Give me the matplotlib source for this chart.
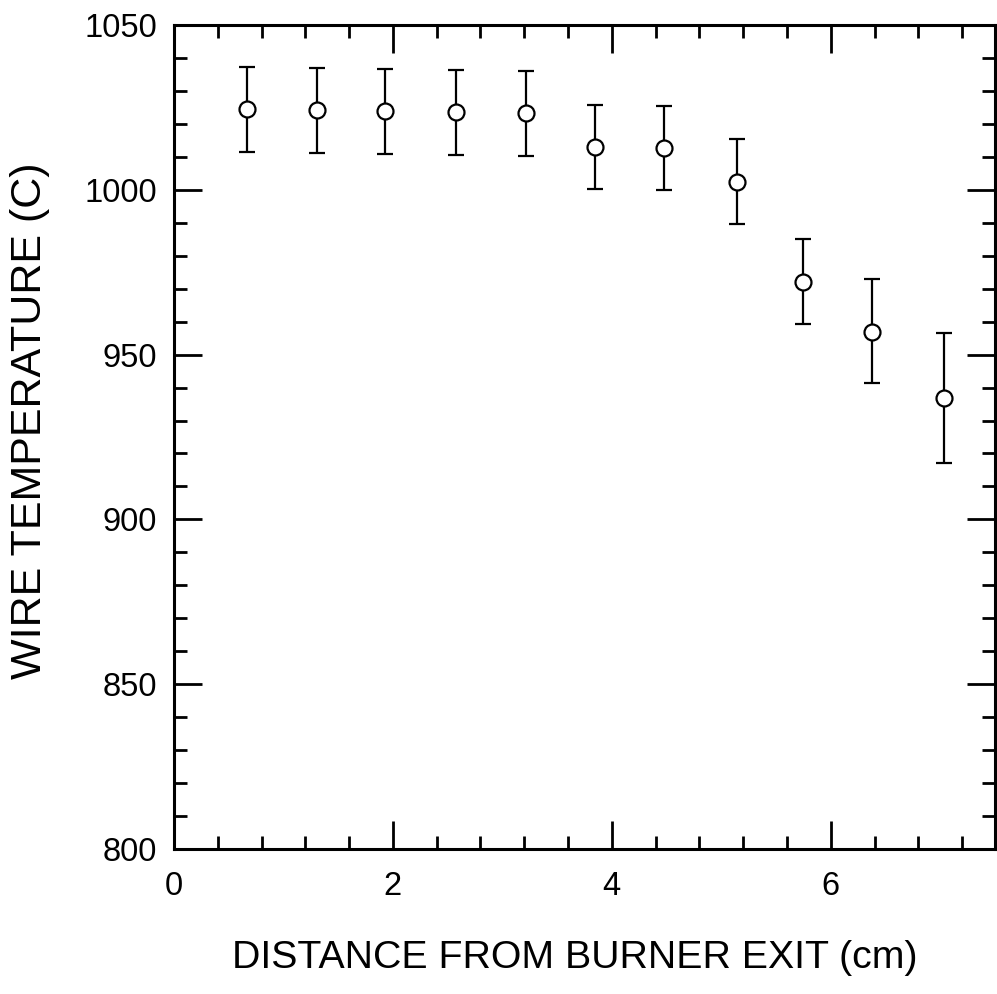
import matplotlib
matplotlib.use("Agg")
import matplotlib.pyplot as plt
from matplotlib.ticker import MultipleLocator

plt.rcParams['font.family'] = ['Liberation Sans', 'DejaVu Sans']

# distance from burner exit (cm) and measured wire temperature (C)
distance = [0.67, 1.31, 1.93, 2.58, 3.22, 3.85, 4.48, 5.14, 5.75, 6.38, 7.03]
temperature = [1024.6, 1024.2, 1023.9, 1023.5, 1023.2, 1013.0, 1012.7, 1002.5, 972.1, 957.0, 936.9]
err_low = [13.0, 12.9, 12.9, 12.8, 12.8, 12.7, 12.9, 12.9, 12.8, 15.7, 19.8]
err_high = [12.8, 12.9, 12.9, 13.0, 13.0, 12.8, 12.8, 12.9, 13.0, 15.8, 19.7]

fig = plt.figure(figsize=(9.97, 9.94), dpi=100)
ax = fig.add_axes([0.1745, 0.1459, 0.8235, 0.8289])

ax.errorbar(distance, temperature, yerr=[err_low, err_high], fmt='o',
            color='black', ecolor='black', elinewidth=1.6, capsize=6,
            capthick=1.6, markersize=11.5, markerfacecolor='white',
            markeredgecolor='black', markeredgewidth=1.6, zorder=3)

ax.set_xlim(0, 7.5)
ax.set_ylim(800, 1050)
ax.xaxis.set_major_locator(MultipleLocator(2))
ax.xaxis.set_minor_locator(MultipleLocator(0.4))
ax.yaxis.set_major_locator(MultipleLocator(50))
ax.yaxis.set_minor_locator(MultipleLocator(10))

for s in ax.spines.values():
    s.set_linewidth(2.2)

ax.tick_params(which='both', direction='in', top=True, right=True, width=2.0)
ax.tick_params(which='major', length=20)
ax.tick_params(which='minor', length=9.5)
ax.tick_params(axis='x', which='major', labelsize=23.5, pad=16)
ax.tick_params(axis='y', which='major', labelsize=23.5, pad=12)

fig.text(575 / 997, 1 - 958 / 994, 'DISTANCE FROM BURNER EXIT (cm)',
         fontsize=28.3, ha='center', va='center')
fig.text(30 / 997, 1 - 421 / 994, 'WIRE TEMPERATURE (C)',
         fontsize=31, rotation=90, ha='center', va='center')

fig.savefig('out.png', dpi=100, facecolor='white')
